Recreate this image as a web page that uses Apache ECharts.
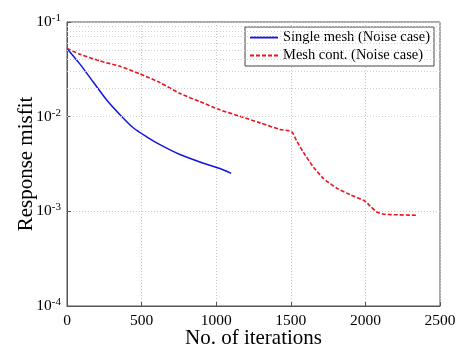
<!DOCTYPE html>
<html>
<head>
<meta charset="utf-8">
<script src="https://cdn.jsdelivr.net/npm/echarts@6/dist/echarts.min.js"></script>
<style>
  html, body { margin: 0; padding: 0; background: #fff; }
  #chart { width: 462px; height: 354px; }
</style>
</head>
<body>
<div id="chart"></div>
<script>
// single mesh run (blue, solid)
const singleIter = [0, 87, 176, 266, 355, 444, 534, 623, 757, 891, 1025, 1100];
const singleMisfit = [0.0526, 0.0359, 0.0232, 0.0150, 0.0105, 0.00763, 0.00612, 0.00506, 0.00398, 0.00332, 0.00283, 0.00252];

// mesh continuation run (red, dashed)
const contIter = [0, 87, 221, 355, 489, 623, 757, 891, 1025, 1159, 1294, 1428, 1506,
                  1539, 1584, 1651, 1718, 1807, 1897, 1997, 2031, 2076, 2131, 2344];
const contMisfit = [0.0526, 0.0456, 0.0388, 0.0340, 0.0283, 0.0229, 0.0176, 0.0144, 0.0118, 0.0101, 0.0086, 0.00733, 0.00693,
                    0.00556, 0.00421, 0.00294, 0.00223, 0.00176, 0.00150, 0.00128, 0.00114, 0.000984, 0.00093, 0.00091];

const minorGrid = [2e-4, 3e-4, 4e-4, 5e-4, 6e-4, 7e-4, 8e-4, 9e-4,
                   2e-3, 3e-3, 4e-3, 5e-3, 6e-3, 7e-3, 8e-3, 9e-3,
                   2e-2, 3e-2, 4e-2, 5e-2, 6e-2, 7e-2, 8e-2, 9e-2];

const serif = '"Liberation Serif", "Times New Roman", serif';

const pairs = (xs, ys) => xs.map((x, i) => [x, ys[i]]);

const getOption = () => {
  return {
    animation: false,
    backgroundColor: '#fff',
    grid: {
      left: 67, right: 22, top: 22, bottom: 42,
      show: true, borderColor: '#555', borderWidth: 1
    },
    legend: {
      left: 245, top: 27,
      orient: 'vertical',
      backgroundColor: '#fff',
      borderColor: '#444', borderWidth: 1,
      padding: [3, 4],
      itemGap: 3,
      itemWidth: 28, itemHeight: 10,
      itemStyle: { opacity: 0 },
      textStyle: { fontFamily: serif, fontSize: 14.5, color: '#000' },
      data: ['Single mesh (Noise case)', 'Mesh cont. (Noise case)']
    },
    xAxis: {
      type: 'value',
      min: 0, max: 2500, interval: 500,
      name: 'No. of iterations',
      nameLocation: 'middle', nameGap: 22, nameMoveOverlap: false,
      nameTextStyle: { fontFamily: serif, fontSize: 21, color: '#000' },
      axisLine: { show: true, lineStyle: { color: '#555' } },
      axisTick: { inside: true, length: 4, lineStyle: { color: '#555' } },
      axisLabel: { fontFamily: serif, fontSize: 15.5, color: '#000', margin: 7, formatter: (v) => String(v) },
      splitLine: { show: true, lineStyle: { color: '#c8c8c8', type: [1, 2] } }
    },
    yAxis: {
      type: 'log', logBase: 10,
      min: 1e-4, max: 1e-1,
      name: 'Response misfit',
      nameLocation: 'middle', nameGap: 30, nameMoveOverlap: false,
      nameTextStyle: { fontFamily: serif, fontSize: 21, color: '#000' },
      axisLine: { show: true, lineStyle: { color: '#555' } },
      axisTick: { inside: true, length: 4, lineStyle: { color: '#555' } },
      axisLabel: {
        margin: 6,
        formatter: (v) => '{b|10}{s|' + Math.round(Math.log10(v)) + '}',
        rich: {
          b: { fontFamily: serif, fontSize: 15.5, color: '#000' },
          s: { fontFamily: serif, fontSize: 11, color: '#000', verticalAlign: 'top', padding: [0, 0, 8, 0] }
        }
      },
      splitLine: { show: true, lineStyle: { color: '#c8c8c8', type: [1, 2] } }
    },
    series: [
      {
        name: 'Single mesh (Noise case)',
        type: 'line',
        data: pairs(singleIter, singleMisfit),
        smooth: 0.25,
        symbol: 'circle', showSymbol: false,
        lineStyle: { color: '#1414e0', width: 1.5 },
        itemStyle: { color: '#1414e0' },
        markLine: {
          silent: true, symbol: 'none', label: { show: false },
          lineStyle: { color: '#d0d0d0', type: [1, 2], width: 1 },
          data: minorGrid.map(v => ({ yAxis: v }))
        },
        z: 3
      },
      {
        name: 'Mesh cont. (Noise case)',
        type: 'line',
        data: pairs(contIter, contMisfit),
        smooth: 0.2,
        symbol: 'circle', showSymbol: false,
        lineStyle: { color: '#e8141e', width: 1.6, type: [4, 2] },
        itemStyle: { color: '#e8141e' },
        z: 3
      }
    ]
  };
};

const chart = echarts.init(document.querySelector('#chart'));
chart.setOption(getOption());
</script>
</body>
</html>
